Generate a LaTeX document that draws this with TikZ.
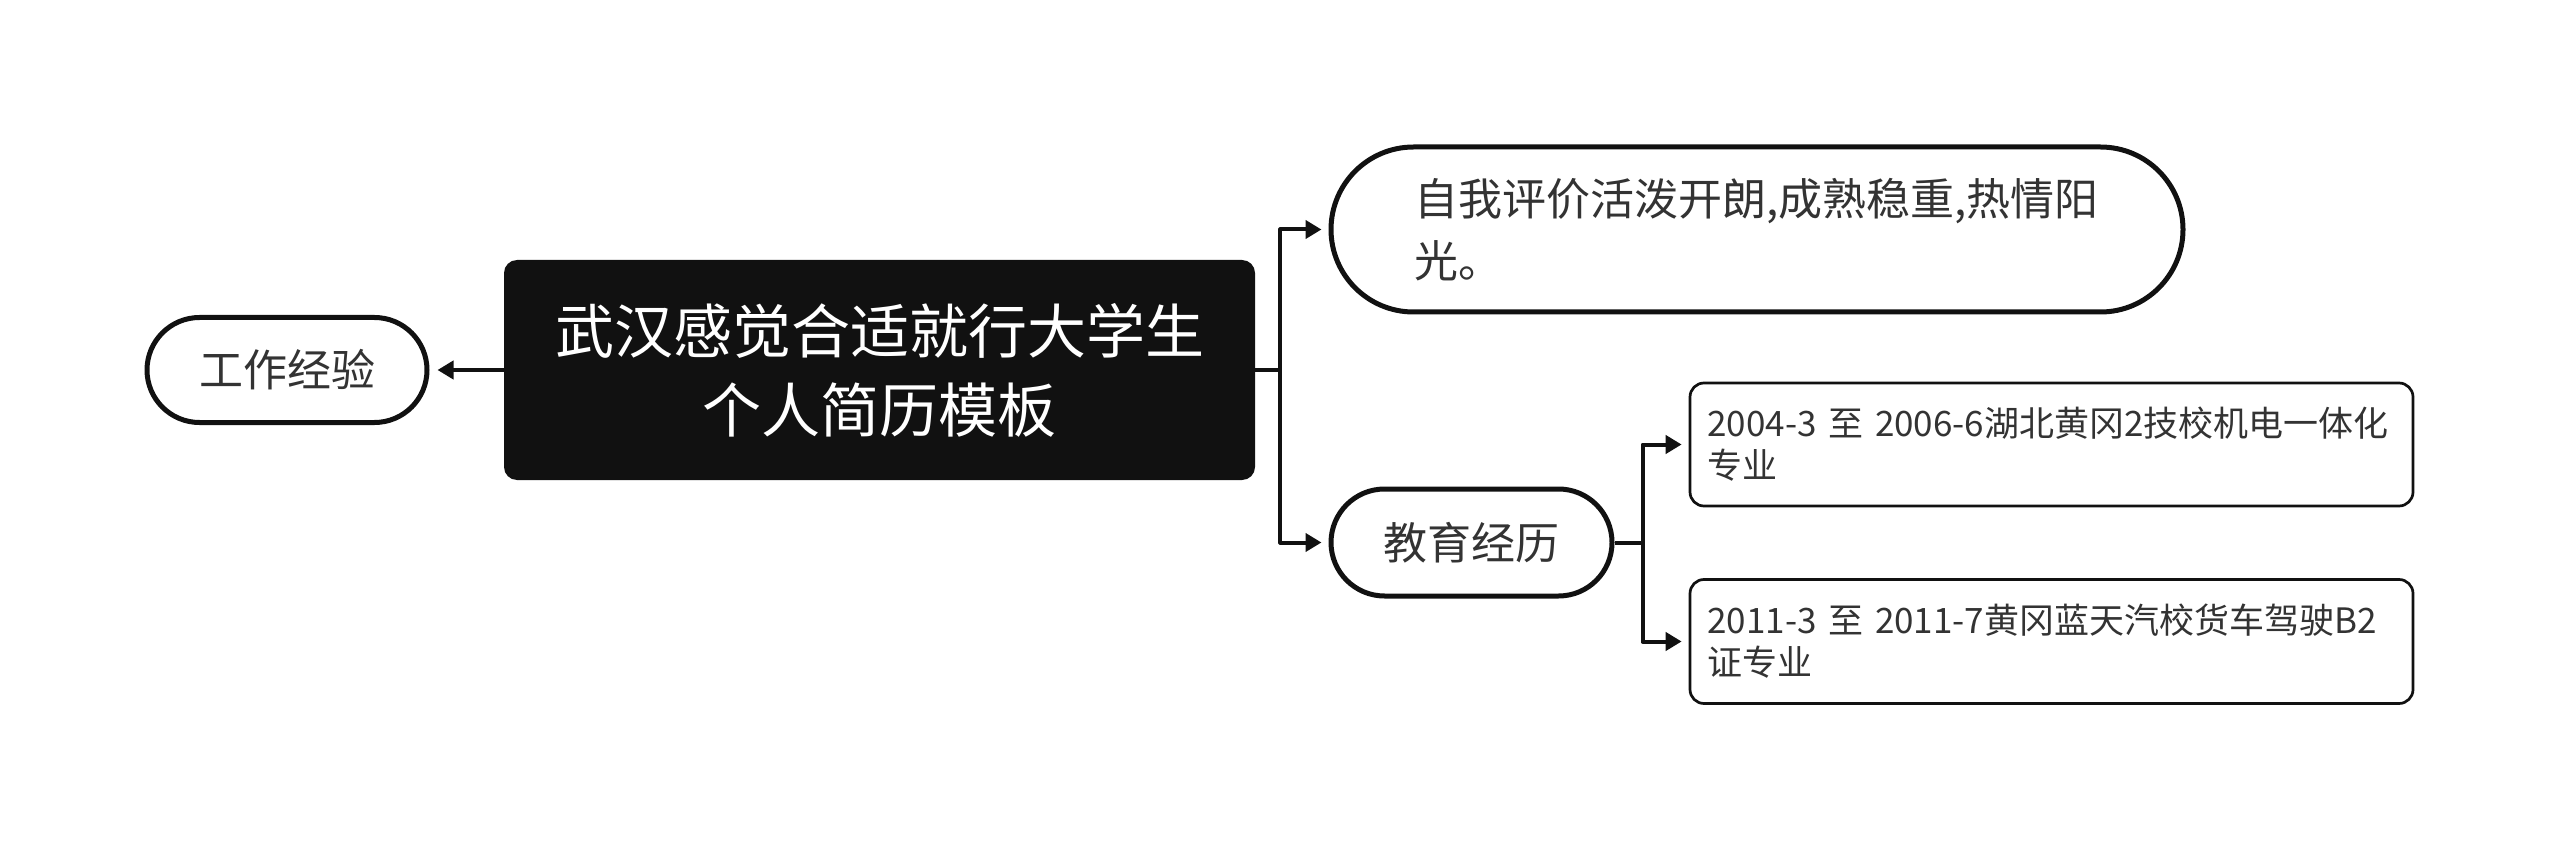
\documentclass[tikz,border=0pt]{standalone}
\usepackage{fontspec}
\setmainfont{Noto Sans CJK SC}
\usetikzlibrary{arrows.meta,shapes.misc}
\definecolor{inkgray}{HTML}{333333}
\definecolor{rootblack}{HTML}{111111}
\begin{document}
\begin{tikzpicture}[x=0.5pt, y=-0.5pt, line join=round, >={Triangle[length=8pt,width=9pt]},
	topic/.style={draw=rootblack, line width=2.5pt, rounded rectangle, inner sep=0pt, text=inkgray, font=\fontsize{22pt}{31pt}\selectfont, align=left},
	item/.style={draw=rootblack, line width=1.35pt, rounded corners=7pt, inner sep=0pt, text=inkgray, font=\fontsize{17.5pt}{21pt}\selectfont, align=left, text width=344pt, minimum width=361.5pt},
	link/.style={draw=rootblack, line width=2pt}]
	\useasboundingbox (0,0) rectangle (2560,850);
	% central topic
	\node[fill=rootblack, rounded corners=6.5pt, minimum width=375.5pt, minimum height=110pt, inner sep=0pt, text=white, align=center, font=\fontsize{29.5pt}{39.5pt}\selectfont] (root) at (879.5,370) {武汉感觉合适就行大学生\\个人简历模板};
	\node[topic, minimum width=140pt, minimum height=52.5pt] (work) at (287,370) {工作经验};
	\node[topic, minimum width=426pt, minimum height=82.5pt, text width=343pt] (self) at (1757,229.5) {自我评价活泼开朗,成熟稳重,热情阳\\光。};
	\node[topic, minimum width=140.5pt, minimum height=53.5pt] (edu) at (1471.5,542.5) {教育经历};
	\node[item, minimum height=61.5pt] (eduA) at (2051.5,444.5) {2004-3 至 2006-6湖北黄冈2技校机电一体化\\专业};
	\node[item, minimum height=62pt] (eduB) at (2051.5,641.5) {2011-3 至 2011-7黄冈蓝天汽校货车驾驶B2\\证专业};
	% connectors
	\draw[link,->,shorten >=4pt] (root.west) -- (work.east);
	\draw[link] (root.east) -- ++(25,0) coordinate (fork);
	\draw[link,->,shorten >=3.5pt] (fork) |- (self.west);
	\draw[link,->,shorten >=3.5pt] (fork) |- (edu.west);
	\draw[link] (edu.east) -- ++(28,0) coordinate (eduFork);
	\draw[link,->,shorten >=3.5pt] (eduFork) |- (eduA.west);
	\draw[link,->,shorten >=3.5pt] (eduFork) |- (eduB.west);
\end{tikzpicture}
\end{document}
